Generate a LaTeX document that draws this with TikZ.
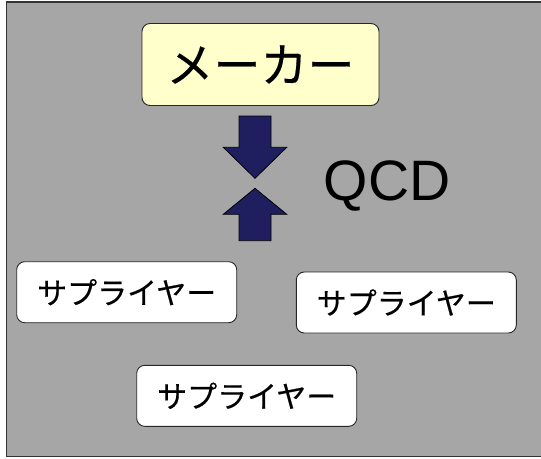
\documentclass[tikz,border=0pt]{standalone}
\usepackage{fontspec}
\setmainfont{Liberation Sans}
\newfontfamily\jpfont[FakeBold=0.4]{Noto Sans CJK JP}
\definecolor{panelgray}{HTML}{A6A6A6}
\definecolor{makerfill}{HTML}{FFFFCC}
\definecolor{arrownavy}{HTML}{1F1F5F}

\begin{document}
\begin{tikzpicture}[x=1pt, y=-1pt,
    supplier/.style={draw=black!85, line width=0.9pt, rounded corners=8pt, fill=white,
      minimum width=220pt, minimum height=61pt, inner sep=0pt,
      font=\jpfont\fontsize{30}{30}\selectfont},
    maker/.style={supplier, fill=makerfill, minimum width=237pt, minimum height=82pt,
      font=\jpfont\fontsize{47}{47}\selectfont},
    blockarrow/.style={draw=black, line width=0.8pt, fill=arrownavy}]
      \useasboundingbox (0,0) rectangle (541,458);
      \draw[fill=panelgray, draw=black!80, line width=1.5pt] (6.5,2) rectangle (548,456.5);
      \node[maker] (maker) at (260.5, 64.5) {メーカー};
      % squeeze arrows
      \draw[blockarrow] (239,116) -- (271,116) -- (271,147.3) -- (286.7,147.3) -- (255,178.3)
        -- (223.3,147.3) -- (239,147.3) -- cycle;
      \draw[blockarrow] (255,188.3) -- (286.7,214.3) -- (271,214.3) -- (271,240.7)
        -- (239,240.7) -- (239,214.3) -- (223.3,214.3) -- cycle;
      \node[anchor=base, font=\fontsize{57}{57}\selectfont, inner sep=0pt] (qcd) at (387, 200) {QCD};
      \node[supplier] (supA) at (126.7, 292.2) {サプライヤー};
      \node[supplier] (supB) at (406.3, 302.5) {サプライヤー};
      \node[supplier] (supC) at (246.7, 395.8) {サプライヤー};
\end{tikzpicture}
\end{document}
